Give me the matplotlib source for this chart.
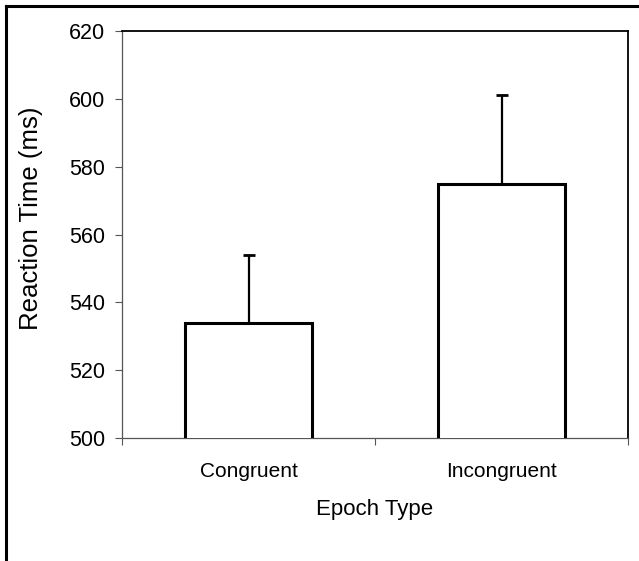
import matplotlib
matplotlib.use("Agg")
import matplotlib.pyplot as plt
from matplotlib.lines import Line2D

categories = ["Congruent", "Incongruent"]
means = [534, 575]
errors = [20, 26]
yticks = [500, 520, 540, 560, 580, 600, 620]

plt.rcParams['font.family'] = ['Liberation Sans', 'DejaVu Sans']

fig = plt.figure(figsize=(6.39, 5.61), dpi=100)
ax = fig.add_axes([122/639, 1-438/561, (628-122)/639, (438-31)/561])

x = list(range(len(categories)))
ax.bar(x, means, width=0.5, color='white', edgecolor='black', linewidth=2.2, zorder=3)
ax.errorbar(x, means, yerr=[[0]*len(errors), errors], fmt='none', ecolor='black',
            elinewidth=1.6, capsize=4.3, capthick=2.0, zorder=2)

ax.set_xlim(-0.5, 1.5)
ax.set_ylim(500, 620)
ax.set_yticks(yticks)
ax.set_yticklabels([str(t) for t in yticks], fontsize=15.5)
ax.set_xticks(x)
ax.set_xticklabels(categories, fontsize=15)
ax.set_xticks([-0.5, 0.5, 1.5], minor=True)
ax.tick_params(axis='x', which='major', length=0, pad=17)
ax.tick_params(axis='x', which='minor', length=5, width=0.8, direction='out', color='#555555')
ax.tick_params(axis='y', which='major', length=5, width=0.8, direction='out', color='#555555', pad=7)

for s in ['left', 'bottom']:
    ax.spines[s].set_linewidth(0.9)
    ax.spines[s].set_color('#555555')
for s in ['top', 'right']:
    ax.spines[s].set_linewidth(1.3)
    ax.spines[s].set_color('black')

ax.set_xlabel("Epoch Type", fontsize=16, labelpad=13)
ax.set_ylabel("Reaction Time (ms)", fontsize=18.5)
ax.yaxis.set_label_coords((31 - 122) / (628 - 122), (438 - 218) / (438 - 31))
ax.yaxis.label.set_verticalalignment('center')

# figure border (left and top edges visible)
fig.add_artist(Line2D([6/639, 6/639], [0, 1-6/561], transform=fig.transFigure, color='black', linewidth=2.2))
fig.add_artist(Line2D([6/639, 1], [1-6/561, 1-6/561], transform=fig.transFigure, color='black', linewidth=2.2))

fig.savefig("out.png", dpi=100)
